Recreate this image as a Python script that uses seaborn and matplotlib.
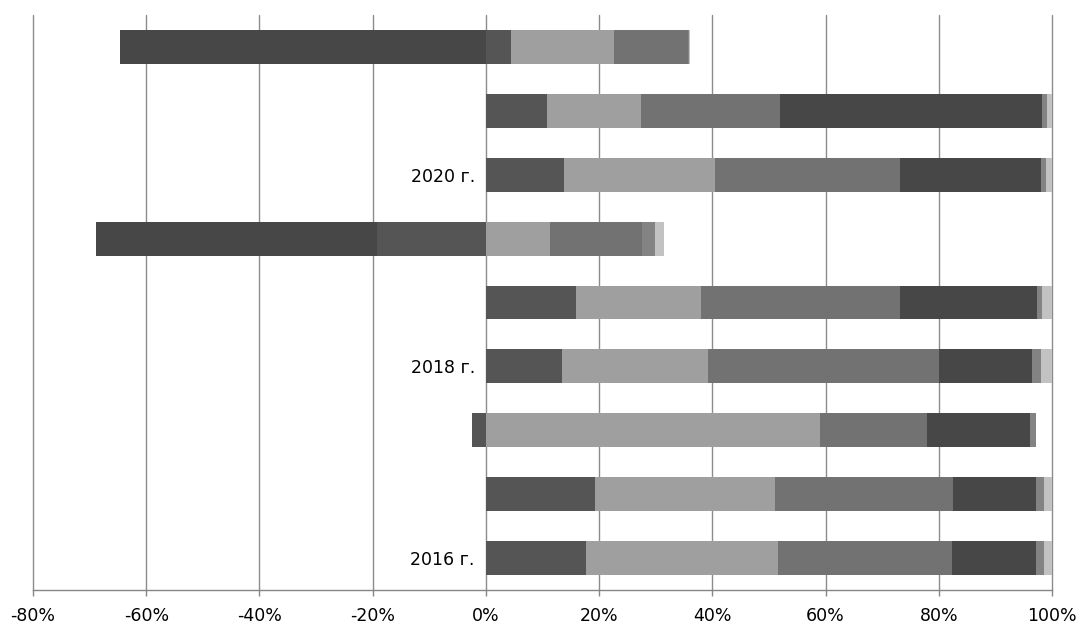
import numpy as np
import pandas as pd
import matplotlib
matplotlib.use("Agg")
import matplotlib.pyplot as plt
import seaborn as sns
from matplotlib.ticker import FuncFormatter

# ---- data (rows listed bottom -> top), values in % ----
row_labels = ["2016 г.", "", "", "2018 г.", "", "", "2020 г.", "", ""]
series1 = [17.7, 19.2, -2.5, 13.5, 16.0, -19.3, 13.8, 10.8, 4.4]
series2 = [33.9, 31.8, 59.0, 25.7, 22.0, 11.4, 26.6, 16.6, 18.2]
series3 = [30.7, 31.6, 19.0, 40.9, 35.2, 16.1, 32.8, 24.6, 13.1]
series4 = [14.8, 14.5, 18.2, 16.4, 24.2, -49.5, 24.8, 46.3, -64.6]
series5 = [1.5, 1.5, 1.0, 1.5, 0.9, 2.4, 0.9, 0.9, 0.2]
series6 = [1.4, 1.4, 0.0, 2.0, 1.7, 1.5, 1.1, 0.8, 0.1]
x_ticks = [-80, -60, -40, -20, 0, 20, 40, 60, 80, 100]

colors = ["#555555", "#9f9f9f", "#727272", "#474747", "#838383", "#c2c2c2"]

series = np.array([series1, series2, series3, series4, series5, series6])
cum_pos = np.cumsum(np.where(series > 0, series, 0), axis=0)
cum_neg = np.cumsum(np.where(series < 0, series, 0), axis=0)

sns.set_theme(style="white")
plt.rcParams["font.family"] = ["DejaVu Sans"]

fig = plt.figure(figsize=(10.8, 6.3), dpi=100)
ax = fig.add_axes([33 / 1080, 40 / 630, 1019 / 1080, 575 / 630])

rows = list(range(len(row_labels)))
order = rows[::-1]  # top row first

for k in reversed(range(series.shape[0])):
    for vals in (cum_pos[k], cum_neg[k]):
        df = pd.DataFrame({"row": rows, "value": vals})
        sns.barplot(data=df, x="value", y="row", order=order, orient="y",
                    color=colors[k], saturation=1, width=0.53,
                    errorbar=None, ax=ax, linewidth=0)

ax.set_xlim(-80, 100)
ax.set_xticks(x_ticks)
ax.xaxis.set_major_formatter(FuncFormatter(lambda v, p: f"{v:.0f}%"))
ax.set_yticks(range(len(order)))
ax.set_yticklabels([row_labels[r] for r in order])
ax.set_xlabel("")
ax.set_ylabel("")

ax.set_axisbelow(True)
ax.xaxis.grid(True, color="#8c8c8c", linewidth=1.0)
ax.yaxis.grid(False)
for gl in ax.get_xgridlines():
    gl.set_clip_on(False)

for s in ("top", "right"):
    ax.spines[s].set_visible(False)
ax.spines["left"].set_position(("data", 0))
ax.spines["left"].set_linewidth(0)
ax.spines["bottom"].set_color("#868686")
ax.spines["bottom"].set_linewidth(1.0)

ax.tick_params(axis="x", direction="out", length=4, width=1, color="#868686",
               labelsize=12.5, pad=8, labelcolor="#000000", bottom=True)
ax.tick_params(axis="y", length=0, pad=8, labelsize=12.5, labelcolor="#000000")

fig.savefig("out.png", dpi=100)
